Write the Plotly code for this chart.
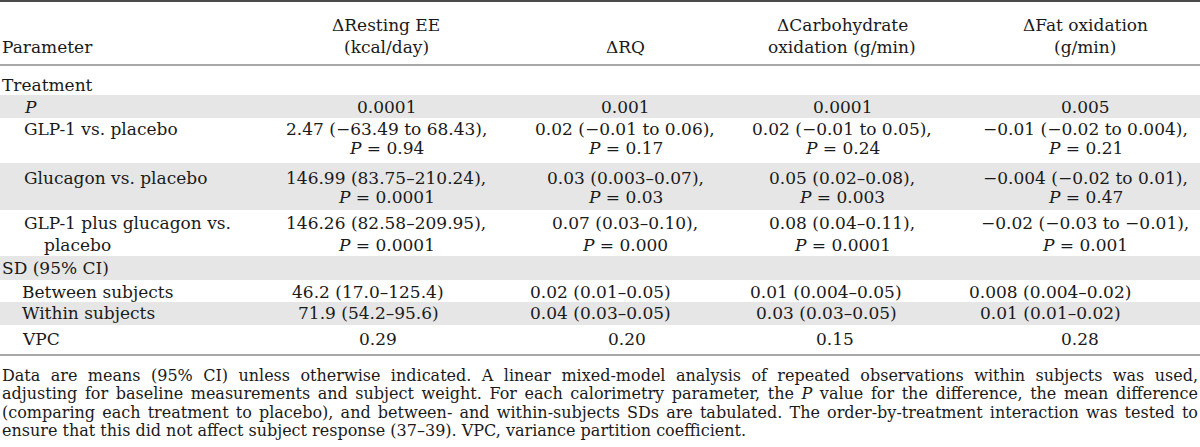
import json
import plotly.graph_objects as go

# ---------------- data ----------------
col_headers = ["ΔResting EE<br>(kcal/day)", "ΔRQ", "ΔCarbohydrate<br>oxidation (g/min)", "ΔFat oxidation<br>(g/min)"]
stub_header = "Parameter"

treatment_label = "Treatment"
p_label = "<i>P</i>"
p_values = ["0.0001", "0.001", "0.0001", "0.005"]

comparisons = ["GLP-1 vs. placebo", "Glucagon vs. placebo", "GLP-1 plus glucagon vs.|placebo"]
comp_estimates = [
    ["2.47 (−63.49 to 68.43),", "0.02 (−0.01 to 0.06),", "0.02 (−0.01 to 0.05),", "−0.01 (−0.02 to 0.004),"],
    ["146.99 (83.75–210.24),", "0.03 (0.003–0.07),", "0.05 (0.02–0.08),", "−0.004 (−0.02 to 0.01),"],
    ["146.26 (82.58–209.95),", "0.07 (0.03–0.10),", "0.08 (0.04–0.11),", "−0.02 (−0.03 to −0.01),"],
]
comp_p = [
    ["0.94", "0.17", "0.24", "0.21"],
    ["0.0001", "0.03", "0.003", "0.47"],
    ["0.0001", "0.000", "0.0001", "0.001"],
]

sd_label = "SD (95% CI)"
sd_rows = ["Between subjects", "Within subjects"]
sd_values = [
    ["46.2 (17.0–125.4)", "0.02 (0.01–0.05)", "0.01 (0.004–0.05)", "0.008 (0.004–0.02)"],
    ["71.9 (54.2–95.6)", "0.04 (0.03–0.05)", "0.03 (0.03–0.05)", "0.01 (0.01–0.02)"],
]
vpc_label = "VPC"
vpc_values = ["0.29", "0.20", "0.15", "0.28"]

footnote_lines = [
    "Data are means (95% CI) unless otherwise indicated. A linear mixed-model analysis of repeated observations within subjects was used,",
    "adjusting for baseline measurements and subject weight. For each calorimetry parameter, the <i>P</i> value for the difference, the mean difference",
    "(comparing each treatment to placebo), and between- and within-subjects SDs are tabulated. The order-by-treatment interaction was tested to",
    "ensure that this did not affect subject response (37–39). VPC, variance partition coefficient.",
]
justified_lines = 3  # first three footnote lines are justified

# ---------------- layout / style ----------------
W, H = 1200, 447
FONT = "DejaVu Serif"
FS = 17
FS_NOTE = 16
TXT = "#1a1a1a"
BAND = "#e6e6e6"

col_x = [386, 625, 842, 1085]
sd_col_x = [368, 600, 826, 1050]
vpc_col_x = [378, 627, 835, 1080]

annotations = []
shapes = []


def txt(x, y, s, anchor="left", size=FS):
    annotations.append(dict(
        x=x, y=y, xref="x", yref="y", text=s, showarrow=False,
        xanchor=anchor, yanchor="middle", align=anchor,
        font=dict(family=FONT, size=size, color=TXT),
    ))


def band(y0, y1):
    shapes.append(dict(type="rect", xref="x", yref="y", x0=0, x1=W, y0=y0, y1=y1,
                       fillcolor=BAND, line=dict(width=0), layer="below"))


def rule(y, color, width):
    shapes.append(dict(type="line", xref="x", yref="y", x0=0, x1=W, y0=y, y1=y,
                       line=dict(color=color, width=width)))


# bands
band(95, 118)     # P row
band(163, 210)    # Glucagon
band(256, 280)    # SD header
band(302, 325)    # Within subjects

# rules
rule(1, "#4a4a4a", 2)
rule(65, "#8a8a8a", 1.5)
rule(355, "#8a8a8a", 1.5)

# header
txt(0, 47, stub_header)
for x, h in zip(col_x, col_headers):
    lines = h.split("<br>")
    if len(lines) == 2:
        txt(x, 25, lines[0], "center")
        txt(x, 47, lines[1], "center")
    else:
        txt(x, 47, lines[0], "center")

# Treatment section
txt(0, 85, treatment_label)
txt(22, 107, p_label)
for x, v in zip(col_x, p_values):
    txt(x, 107, v, "center")

comp_y = [(129, 148), (178, 197), (223, 245)]
for (y1, y2), lab, est, pv in zip(comp_y, comparisons, comp_estimates, comp_p):
    parts = lab.split("|")
    txt(22, y1, parts[0])
    if len(parts) > 1:
        txt(42, y2, parts[1])
    for x, e, p in zip(col_x, est, pv):
        txt(x, y1, e, "center")
        txt(x, y2, "<i>P</i> = " + p, "center")

# SD section
txt(0, 268, sd_label)
for y, lab, vals in zip([292, 313], sd_rows, sd_values):
    txt(20, y, lab)
    for x, v in zip(sd_col_x, vals):
        txt(x, y, v, "center")
txt(20, 339, vpc_label)
for x, v in zip(vpc_col_x, vpc_values):
    txt(x, 339, v, "center")

# footnote
for y, line in zip([375, 393, 412, 430], footnote_lines):
    txt(0, y, line, size=FS_NOTE)

fig = go.Figure()
fig.update_layout(
    width=W, height=H,
    margin=dict(l=0, r=0, t=0, b=0),
    paper_bgcolor="white", plot_bgcolor="white",
    xaxis=dict(range=[0, W], visible=False, fixedrange=True),
    yaxis=dict(range=[H, 0], visible=False, fixedrange=True),
    showlegend=False,
    hovermode=False,
    annotations=annotations,
    shapes=shapes,
)

# remove the default page margin and justify the first footnote lines
starts = json.dumps([l.replace("<i>", "").replace("</i>", "")[:30] for l in footnote_lines[:justified_lines]])
post = """
document.body.style.margin = '0';
(function(){
  var gd = document.getElementById('{plot_id}');
  var starts = %s;
  var target = %d;
  gd.querySelectorAll('text.annotation-text').forEach(function(t){
    var s = t.textContent;
    for (var i = 0; i < starts.length; i++) {
      if (s.indexOf(starts[i]) === 0) {
        var w = t.getComputedTextLength();
        var n = (s.match(/ /g) || []).length;
        if (n > 0 && w < target) {
          t.style.wordSpacing = ((target - w) / n) + 'px';
        }
      }
    }
  });
})();
""" % (starts, W - 4)
fig.write_html("out.html", post_script=post, config={"displayModeBar": False, "staticPlot": True})
